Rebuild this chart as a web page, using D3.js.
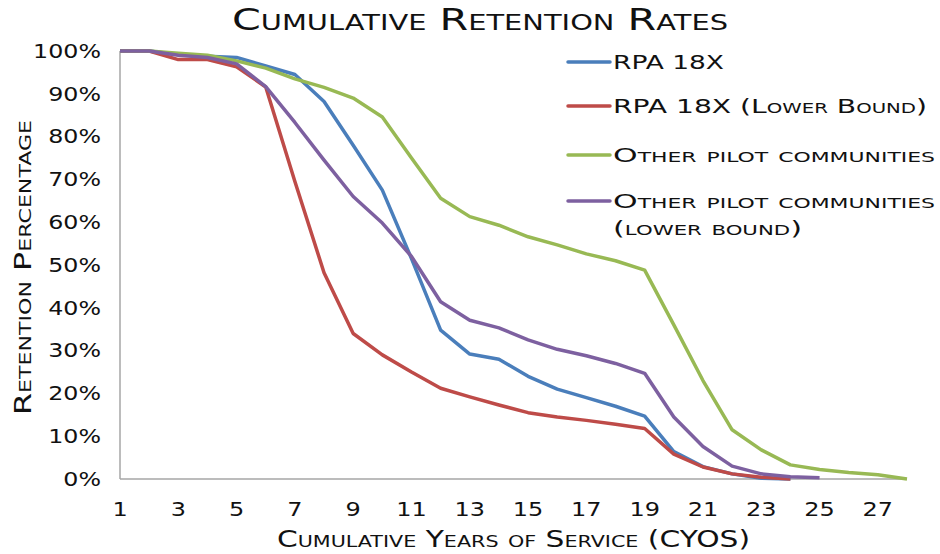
<!DOCTYPE html>
<html>
<head>
<meta charset="utf-8">
<script src="https://cdn.jsdelivr.net/npm/d3@7"></script>
<style>
  body { margin: 0; background: #fff; }
  text { font-family: "DejaVu Sans", sans-serif; font-variant: small-caps; fill: #111; }
</style>
</head>
<body>
<svg id="chart"></svg>
<script>
const years = [1, 2, 3, 4, 5, 6, 7, 8, 9, 10, 11, 12, 13, 14, 15, 16, 17, 18, 19, 20, 21, 22, 23, 24, 25, 26, 27, 28];
const xTicks = [1, 3, 5, 7, 9, 11, 13, 15, 17, 19, 21, 23, 25, 27];
const yTicks = [0, 10, 20, 30, 40, 50, 60, 70, 80, 90, 100];

const rpa = [100, 100, 99.2, 98.8, 98.5, 96.5, 94.5, 88.2, 78, 67.5, 51.5, 34.8, 29.2, 28, 24, 21, 19, 17, 14.7, 6.4, 2.9, 1.2, 0.2, 0];
const rpaLower = [100, 100, 98, 98, 96.3, 91.6, 69.5, 48.2, 34, 29, 25, 21.2, 19.2, 17.3, 15.5, 14.5, 13.7, 12.8, 11.8, 5.8, 2.8, 1.2, 0.4, 0];
const other = [100, 100, 99.5, 99, 97.7, 96, 93.5, 91.5, 89, 84.6, 75, 65.6, 61.3, 59.3, 56.6, 54.7, 52.6, 51, 48.8, 36, 23, 11.5, 6.8, 3.3, 2.2, 1.5, 1, 0];
const otherLower = [100, 100, 99, 98.5, 97, 91.7, 83.3, 74.5, 66, 59.8, 52, 41.4, 37.1, 35.3, 32.5, 30.3, 28.8, 27, 24.7, 14.5, 7.6, 3, 1.2, 0.5, 0.3];

const seriesNames = [["RPA 18X"], ["RPA 18X (Lower Bound)"], ["Other pilot communities"], ["Other pilot communities", "(lower bound)"]];
const seriesValues = [rpa, rpaLower, other, otherLower];
const colors = ["#4A7EBB", "#BE4B48", "#98B954", "#7D60A0"];

const width = 940, height = 554;
const svg = d3.select("#chart").attr("width", width).attr("height", height);

const x = d3.scaleLinear().domain([1, 28]).range([120, 907]);
const y = d3.scaleLinear().domain([0, 100]).range([479, 51]);

// axes (no gridlines, no tick marks)
svg.append("line")
  .attr("x1", x(1)).attr("x2", x(1)).attr("y1", y(100)).attr("y2", y(0))
  .attr("stroke", "#a6a6a6").attr("stroke-width", 1.5);
svg.append("line")
  .attr("x1", x(1)).attr("x2", x(28)).attr("y1", y(0)).attr("y2", y(0))
  .attr("stroke", "#a6a6a6").attr("stroke-width", 1.5);

// wide engraved-style font imitated with a horizontal stretch
svg.selectAll("text.ytick")
  .data(yTicks)
  .join("text")
  .attr("class", "ytick")
  .attr("transform", (d) => `translate(101, ${y(d)}) scale(1.25, 1)`)
  .attr("dy", "0.36em")
  .attr("text-anchor", "end")
  .style("font-size", "19px")
  .text((d) => d + "%");

svg.selectAll("text.xtick")
  .data(xTicks)
  .join("text")
  .attr("class", "xtick")
  .attr("transform", (d) => `translate(${x(d)}, 516) scale(1.2, 1)`)
  .attr("text-anchor", "middle")
  .style("font-size", "20px")
  .text((d) => d);

// lines
const line = d3.line()
  .defined((d) => d != null)
  .x((d, i) => x(years[i]))
  .y((d) => y(d));

svg.selectAll("path.series")
  .data(seriesValues)
  .join("path")
  .attr("class", "series")
  .attr("d", (d) => line(d))
  .attr("fill", "none")
  .attr("stroke", (d, i) => colors[i])
  .attr("stroke-width", 3.5)
  .attr("stroke-linejoin", "round");

// legend
const legendY = [62, 106, 155, 201];
const legendW = [[111], [314], [322], [322, 189]];
const legend = svg.selectAll("g.legend")
  .data(seriesNames)
  .join("g")
  .attr("class", "legend")
  .attr("transform", (d, i) => `translate(568, ${legendY[i]})`);

legend.append("line")
  .attr("x1", 0).attr("x2", 42)
  .attr("stroke", (d, i) => colors[i])
  .attr("stroke-width", 3.5)
  .attr("stroke-linecap", "round");

legend.each(function (d, i) {
  const g = d3.select(this);
  d.forEach((p, j) => {
    g.append("text")
      .attr("x", 45)
      .attr("y", 7 + j * 27)
      .attr("textLength", legendW[i][j])
      .attr("lengthAdjust", "spacingAndGlyphs")
      .style("font-size", "20px")
      .text(p);
  });
});

// titles
svg.append("text")
  .attr("x", 232)
  .attr("y", 30)
  .attr("textLength", 496)
  .attr("lengthAdjust", "spacingAndGlyphs")
  .style("font-size", "30px")
  .text("Cumulative Retention Rates");

svg.append("text")
  .attr("x", 277)
  .attr("y", 547)
  .attr("textLength", 473)
  .attr("lengthAdjust", "spacingAndGlyphs")
  .style("font-size", "23px")
  .text("Cumulative Years of Service (CYOS)");

svg.append("text")
  .attr("transform", "translate(31, 415) rotate(-90)")
  .attr("textLength", 295)
  .attr("lengthAdjust", "spacingAndGlyphs")
  .style("font-size", "23px")
  .text("Retention Percentage");
</script>
</body>
</html>
